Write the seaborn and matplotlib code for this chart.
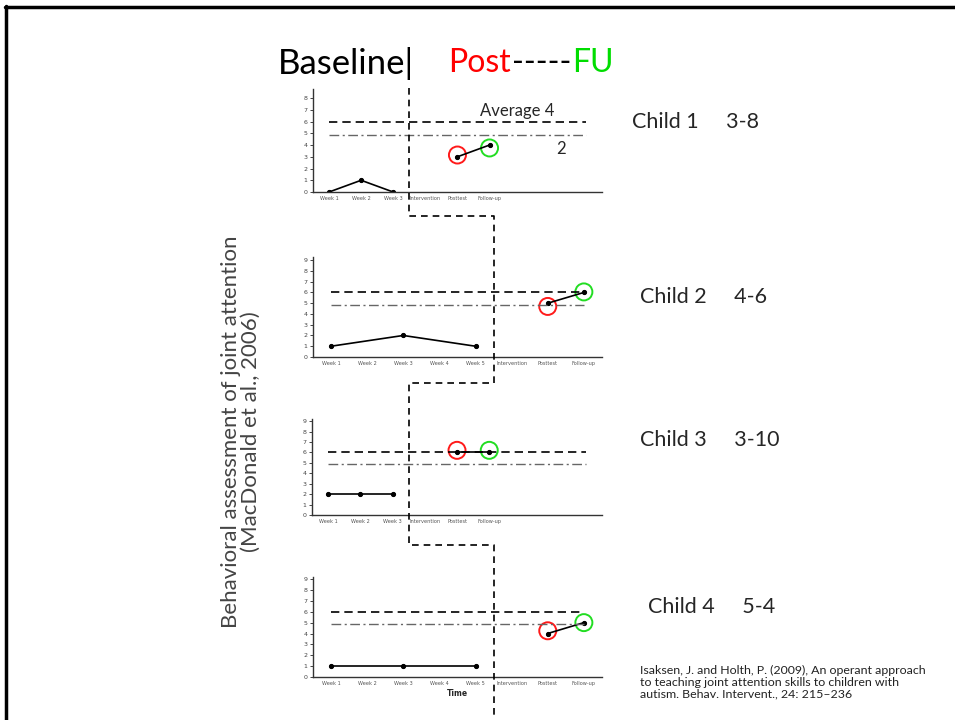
import numpy as np
import pandas as pd
import matplotlib.pyplot as plt
import seaborn as sns
from matplotlib.lines import Line2D

# data
cats_short = ['Week 1', 'Week 2', 'Week 3', 'Intervention', 'Posttest', 'Follow-up', '', '', '']
cats_long = ['Week 1', 'Week 2', 'Week 3', 'Week 4', 'Week 5', 'Intervention', 'Posttest', 'Follow-up']

child_names = ['Child 1', 'Child 2', 'Child 3', 'Child 4']
child_scores = ['3-8', '4-6', '3-10', '5-4']

baseline_1 = [0, 1, 0]
baseline_2 = [1, np.nan, 2, np.nan, 1]
baseline_3 = [2, 2, 2]
baseline_4 = [1, np.nan, 1, np.nan, 1]

post_1 = [3, 4]
post_2 = [5, 6]
post_3 = [6, 6]
post_4 = [4, 5]

# circles drawn around posttest / follow-up
red_circle_y = [3.15, 4.7, 6.2, 4.25]
green_circle_y = [3.75, 6.05, 6.2, 5.0]

average_line = 6
dashdot_line = 4.85

panels = [
    (cats_short, baseline_1, post_1),
    (cats_long, baseline_2, post_2),
    (cats_short, baseline_3, post_3),
    (cats_long, baseline_4, post_4),
]

sns.set_style("white")
plt.rcParams['font.family'] = ['Lato', 'DejaVu Sans']

fig = plt.figure(figsize=(9.55, 7.2), dpi=100)

positions = [
    [0.3277, 0.7333, 0.3026, 0.1436],
    [0.3277, 0.5042, 0.3026, 0.1389],
    [0.3267, 0.2847, 0.3037, 0.1333],
    [0.3277, 0.0597, 0.3026, 0.1390],
]
ytops = [8.8, 9.3, 9.2, 9.2]
ymaxtick = [8, 9, 9, 9]

axes = []
for i, (cats, base, post) in enumerate(panels):
    ax = fig.add_axes(positions[i])
    axes.append(ax)
    n = len(cats)
    idx_post = cats.index('Posttest')
    idx_fu = cats.index('Follow-up')

    bdf = pd.DataFrame({'x': np.arange(len(base)), 'y': base}).dropna()
    pdf = pd.DataFrame({'x': [idx_post, idx_fu], 'y': post})

    sns.lineplot(data=bdf, x='x', y='y', ax=ax, color='black', linewidth=1.2,
                 marker='o', markersize=3, markeredgecolor='black')
    sns.lineplot(data=pdf, x='x', y='y', ax=ax, color='black', linewidth=1.2,
                 marker='o', markersize=3, markeredgecolor='black')

    x_end = idx_fu if n == 8 else n - 1
    ax.plot([0, x_end], [average_line] * 2, color='black', lw=1.2, dashes=(5, 3))
    ax.plot([0, x_end], [dashdot_line] * 2, color='#666666', lw=1.0,
            dashes=(7, 2.5, 1.5, 2.5))

    sns.scatterplot(x=[idx_post, idx_fu], y=[red_circle_y[i], green_circle_y[i]],
                    ax=ax, s=150, facecolor='none', edgecolor=['#ff1a1a', '#22dd22'],
                    linewidth=1.4, legend=False)

    ax.set_xlim(-0.5, n - 0.5)
    ax.set_ylim(0, ytops[i])
    ax.set_xticks(np.arange(n))
    ax.set_xticklabels(cats, fontsize=3.6, color='#555555', family='DejaVu Sans')
    ax.set_xticks(np.arange(n) + 0.5, minor=True)
    ax.tick_params(axis='x', which='major', length=0, pad=3)
    ax.tick_params(axis='x', which='minor', length=2.5, direction='in', color='#444444', width=0.8)
    ax.set_yticks(range(ymaxtick[i] + 1))
    ax.set_yticklabels(range(ymaxtick[i] + 1), fontsize=4.5, color='#444444', family='DejaVu Sans')
    ax.tick_params(axis='y', length=2, width=0.7, color='#444444', pad=2, left=True)
    for s in ['top', 'right']:
        ax.spines[s].set_visible(False)
    for s in ['left', 'bottom']:
        ax.spines[s].set_color('#333333')
        ax.spines[s].set_linewidth(1.0)
    ax.set_xlabel('')
    ax.set_ylabel('')
    ax.patch.set_alpha(0)

axes[3].set_xlabel('Time', fontsize=5.5, fontweight='bold', family='DejaVu Sans',
                   labelpad=2)

# phase-change dashed connector across the panels
inv = fig.transFigure.inverted()
x_a = inv.transform(axes[0].transData.transform((2.5, 0)))[0]
x_b = inv.transform(axes[1].transData.transform((4.5, 0)))[0]
ys = [1 - 88 / 720, 1 - 216 / 720, 1 - 383 / 720, 1 - 545 / 720, 1 - 715 / 720]
px = [x_a, x_a, x_b, x_b, x_a, x_a, x_b, x_b]
py = [ys[0], ys[1], ys[1], ys[2], ys[2], ys[3], ys[3], ys[4]]
fig.add_artist(Line2D(px, py, transform=fig.transFigure, color='black', lw=1.2,
                      dashes=(4, 3)))

# title, pieces placed one after another
renderer = fig.canvas.get_renderer()
ty = 1 - 63 / 720
tx = 278 / 955
pieces = [('Baseline|', 'black', 25, 34), ('Post', '#ff0000', 23, 1),
          ('-----', 'black', 23, 1), ('FU', '#00dd00', 23, 0)]
for txt, col, size, gap in pieces:
    t = fig.text(tx, ty, txt, fontsize=size, color=col, va='center', ha='left')
    bb = t.get_window_extent(renderer)
    tx = inv.transform((bb.x1 + gap, 0))[0]

fig.text(517 / 955, 1 - 111 / 720, 'Average 4', fontsize=12, ha='center', va='center')
fig.text(561 / 955, 1 - 149 / 720, '2', fontsize=12, ha='center', va='center')

# child labels
child_xy = [(632, 122), (640, 297), (640, 440), (648, 607)]
for (x, y), name, score in zip(child_xy, child_names, child_scores):
    fig.text(x / 955, 1 - y / 720, f'{name}     {score}', fontsize=15.5, ha='left', va='center')

fig.text(241 / 955, 1 - 432 / 720,
         'Behavioral assessment of joint attention\n(MacDonald et al., 2006)',
         fontsize=16, rotation=90, ha='center', va='center', color='#444444',
         linespacing=1.0, multialignment='center')

fig.text(640 / 955, 1 - 682 / 720,
         'Isaksen, J. and Holth, P. (2009), An operant approach\n'
         'to teaching joint attention skills to children with\n'
         'autism. Behav. Intervent., 24: 215\u2013236',
         fontsize=8.9, ha='left', va='center', linespacing=1.1, color='#222222')

# slide border (top and left)
fig.add_artist(Line2D([5 / 955, 1], [1 - 7 / 720, 1 - 7 / 720], transform=fig.transFigure,
                      color='black', lw=2.5))
fig.add_artist(Line2D([6 / 955, 6 / 955], [1 - 6 / 720, 0], transform=fig.transFigure,
                      color='black', lw=2.5))

fig.savefig('out.png', dpi=100)
